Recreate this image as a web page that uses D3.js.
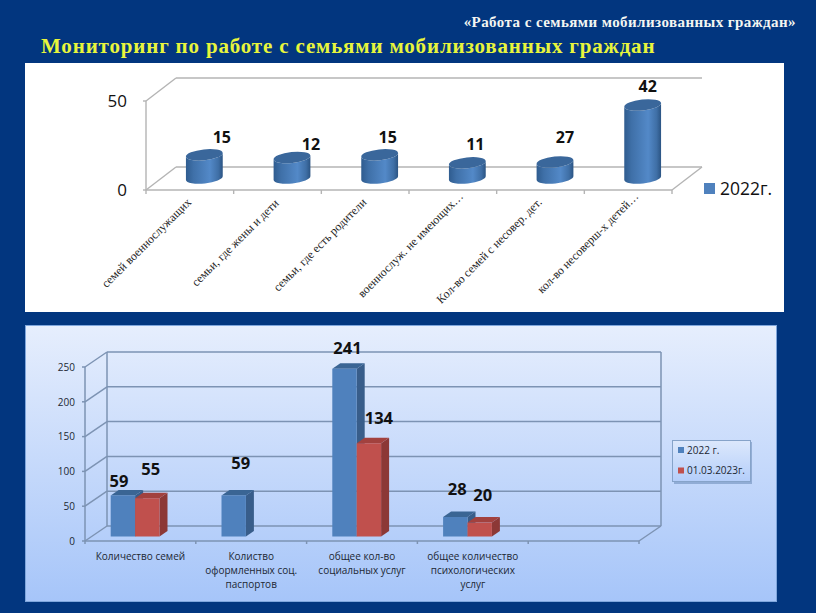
<!DOCTYPE html>
<html>
<head>
<meta charset="utf-8">
<script src="https://cdn.jsdelivr.net/npm/d3@7"></script>
<style>
  html, body { margin: 0; padding: 0; background: #02367f; }
  svg { display: block; }
  .num { font-family: "Open Sans", sans-serif; }
  .domain { display: none; }
</style>
</head>
<body>
<svg id="slide" width="816" height="613"></svg>
<script>
// top chart
const topCategories = ["семей военнослужащих", "семьи, где жены и дети", "семьи, где есть родители", "военнослуж. не имеющих…", "Кол-во семей с несовер. дет.", "кол-во несоверш-х детей…"];
const topLabels = [15, 12, 15, 11, 27, 42];
// the cylinders are not as tall as their labels say, these are the drawn heights
const topHeights = [13, 11.5, 13, 8.5, 9, 41];
const topTicks = [0, 50];

// bottom chart
const botCategories = ["Количество семей", "Колиство оформленных соц. паспортов", "общее кол-во социальных услуг", "общее количество психологических услуг", " "];
const botLines = [["Количество семей"], ["Колиство", "оформленных соц.", "паспортов"], ["общее кол-во", "социальных услуг"], ["общее количество", "психологических", "услуг"], []];
const series = ["2022 г.", "01.03.2023г."];
const values2022 = [59, 59, 241, 28, null];
const values2023 = [55, null, 134, 20, null];
const botTicks = [0, 50, 100, 150, 200, 250];

const svg = d3.select("#slide");
const defs = svg.append("defs");

const panelGrad = defs.append("linearGradient").attr("id", "panel").attr("x2", 0).attr("y2", 1);
panelGrad.append("stop").attr("offset", 0).attr("stop-color", "#e6eefd");
panelGrad.append("stop").attr("offset", 1).attr("stop-color", "#a6c5f9");

const legendGrad = defs.append("linearGradient").attr("id", "legendbg").attr("x2", 0).attr("y2", 1);
legendGrad.append("stop").attr("offset", 0).attr("stop-color", "#dce8fc");
legendGrad.append("stop").attr("offset", 1).attr("stop-color", "#b4cefa");

const cylGrad = defs.append("linearGradient").attr("id", "cyl");
cylGrad.append("stop").attr("offset", 0).attr("stop-color", "#2f5c8f");
cylGrad.append("stop").attr("offset", 0.2).attr("stop-color", "#3f70a8");
cylGrad.append("stop").attr("offset", 0.65).attr("stop-color", "#5389c8");
cylGrad.append("stop").attr("offset", 0.88).attr("stop-color", "#3f6fa6");
cylGrad.append("stop").attr("offset", 1).attr("stop-color", "#2b5483");

// titles
svg.append("text").attr("x", 796).attr("y", 27).attr("text-anchor", "end")
   .attr("font-family", "Liberation Serif").attr("font-weight", "bold").attr("font-size", 15)
   .attr("letter-spacing", 0.43).attr("fill", "#f4f6f2")
   .text("«Работа с семьями мобилизованных граждан»");
svg.append("text").attr("x", 41).attr("y", 53)
   .attr("font-family", "Liberation Serif").attr("font-weight", "bold").attr("font-size", 21)
   .attr("letter-spacing", 0.83).attr("fill", "#e8f53c")
   .text("Мониторинг по работе с семьями мобилизованных граждан");

// ---- top panel ----
svg.append("rect").attr("x", 25).attr("y", 63).attr("width", 759).attr("height", 249).attr("fill", "#fff");

const xT = d3.scaleBand().domain(topCategories).range([146, 672]);
const yT = d3.scaleLinear().domain([0, 50]).range([190, 101]);
const depthT = [30, -23];
const wallT = "#b4b4b4";
const gT = svg.append("g");

const lineT = (x1, y1, x2, y2) => gT.append("line").attr("x1", x1).attr("y1", y1).attr("x2", x2).attr("y2", y2)
   .attr("stroke", wallT).attr("stroke-width", 1.4);

topTicks.forEach(t => {
    lineT(xT.range()[0], yT(t), xT.range()[0] + depthT[0], yT(t) + depthT[1]);
    lineT(xT.range()[0] + depthT[0], yT(t) + depthT[1], xT.range()[1] + depthT[0], yT(t) + depthT[1]);
    lineT(xT.range()[0] - 3, yT(t), xT.range()[0], yT(t));
});
lineT(xT.range()[0], yT(0), xT.range()[0], yT(50));
lineT(xT.range()[0], yT(0), xT.range()[1], yT(0));
lineT(xT.range()[1], yT(0), xT.range()[1] + depthT[0], yT(0) + depthT[1]);
d3.range(topCategories.length + 1).forEach(i => {
    const px = xT.range()[0] + i * xT.step();
    lineT(px, yT(0), px, yT(0) + 4);
});

gT.append("g").attr("transform", `translate(${xT.range()[0] - 16},0.5)`)
   .call(d3.axisLeft(yT).tickValues(topTicks).tickSize(0).tickPadding(3))
   .selectAll("text").attr("class", "num").attr("font-size", 17).attr("fill", "#111");

// cylinders
const cylRx = 18.5, cylRy = 5.5, cylTilt = -6, cylBase = 12, cylShift = 14.5;
const tiltX = cylRx * Math.cos(cylTilt * Math.PI / 180), tiltY = cylRx * Math.sin(cylTilt * Math.PI / 180);
const cylCx = c => xT(c) + xT.bandwidth() / 2 + cylShift;
const topRows = topCategories.map((c, i) => ({ c, label: topLabels[i], h: topHeights[i], i }));

gT.selectAll(".cyl").data(topRows).enter().append("path").attr("class", "cyl")
   .attr("fill", "url(#cyl)")
   .attr("d", d => {
       const cx = cylCx(d.c), top = yT(d.h) - cylBase, base = yT(0) - cylBase;
       return `M${cx - tiltX},${top - tiltY}L${cx - tiltX},${base - tiltY}`
            + `A${cylRx},${cylRy} ${cylTilt} 0 0 ${cx + tiltX},${base + tiltY}`
            + `L${cx + tiltX},${top + tiltY}`
            + `A${cylRx},${cylRy} ${cylTilt} 0 1 ${cx - tiltX},${top - tiltY}Z`;
   });
gT.selectAll(".cyltop").data(topRows).enter().append("ellipse").attr("class", "cyltop")
   .attr("rx", cylRx).attr("ry", cylRy).attr("fill", "#3a679b")
   .attr("transform", d => `translate(${cylCx(d.c)},${yT(d.h) - cylBase}) rotate(${cylTilt})`);

// data labels were dragged by hand in the original, so each one has its own offset
const topLabelNudge = [[17.5, -18], [19, -14], [8, -18], [8, -19], [10, -25], [5, -19]];
gT.selectAll(".toplabel").data(topRows).enter().append("text").attr("class", "toplabel num")
   .attr("text-anchor", "middle").attr("dominant-baseline", "central")
   .attr("font-size", 16).attr("font-weight", "bold").attr("fill", "#111")
   .attr("x", d => cylCx(d.c) + topLabelNudge[d.i][0])
   .attr("y", d => yT(d.h) - cylBase + topLabelNudge[d.i][1])
   .text(d => d.label);

// slanted category labels
const topNameNudge = [[2, 203], [2, 204], [2, 203], [11, 197], [2, 203], [11, 197]];
gT.selectAll(".topname").data(topRows).enter().append("text").attr("class", "topname")
   .attr("text-anchor", "end").attr("font-family", "Liberation Serif").attr("font-size", 11.9).attr("fill", "#222")
   .attr("transform", d => `translate(${xT(d.c) + xT.bandwidth() / 2 + topNameNudge[d.i][0]},${topNameNudge[d.i][1]}) rotate(-45)`)
   .text(d => d.c);

gT.append("rect").attr("x", 704).attr("y", 183).attr("width", 11).attr("height", 11).attr("fill", "#4f81bd");
gT.append("text").attr("class", "num").attr("x", 720).attr("y", 195).attr("font-size", 17.5).attr("fill", "#111").text("2022г.");

// ---- bottom panel ----
svg.append("rect").attr("x", 25.5).attr("y", 325.5).attr("width", 751).attr("height", 276)
   .attr("fill", "url(#panel)").attr("stroke", "#7fa6dc");

const xB = d3.scaleBand().domain(botCategories).range([85, 639]);
const xS = d3.scaleBand().domain(series).range([25.7, 74.5]);
const yB = d3.scaleLinear().domain([0, 250]).range([541, 367]);
const depthB = [22, -15];
const wallB = "#7d93b3";
const gB = svg.append("g");

const lineB = (x1, y1, x2, y2) => gB.append("line").attr("x1", x1).attr("y1", y1).attr("x2", x2).attr("y2", y2)
   .attr("stroke", wallB).attr("stroke-width", 1.5);

botTicks.forEach(t => {
    lineB(xB.range()[0] - 3, yB(t), xB.range()[0], yB(t));
    lineB(xB.range()[0], yB(t), xB.range()[0] + depthB[0], yB(t) + depthB[1]);
    lineB(xB.range()[0] + depthB[0], yB(t) + depthB[1], xB.range()[1] + depthB[0], yB(t) + depthB[1]);
});
lineB(xB.range()[0], yB(0), xB.range()[0], yB(250));
lineB(xB.range()[0] + depthB[0], yB(0) + depthB[1], xB.range()[0] + depthB[0], yB(250) + depthB[1]);
lineB(xB.range()[1] + depthB[0], yB(0) + depthB[1], xB.range()[1] + depthB[0], yB(250) + depthB[1]);
lineB(xB.range()[0], yB(0), xB.range()[1], yB(0));
lineB(xB.range()[1], yB(0), xB.range()[1] + depthB[0], yB(0) + depthB[1]);
d3.range(botCategories.length + 1).forEach(i => {
    const px = xB.range()[0] + i * xB.step();
    lineB(px, yB(0), px, yB(0) + 3);
});

gB.append("g").attr("transform", `translate(${xB.range()[0] - 5},0)`)
   .call(d3.axisLeft(yB).tickValues(botTicks).tickSize(0).tickPadding(5))
   .selectAll("text").attr("class", "num").attr("font-size", 10).attr("fill", "#1c2733");

const botAxis = gB.append("g").attr("transform", "translate(0,541)")
   .call(d3.axisBottom(xB).tickSize(0).tickFormat(""));
botAxis.selectAll(".tick text").attr("dy", 0).each(function (d, i) {
    d3.select(this).selectAll("tspan").data(botLines[i]).enter().append("tspan")
       .attr("class", "num").attr("x", 0).attr("y", (l, j) => 18.5 + j * 14.3)
       .attr("font-size", 10).attr("fill", "#1c2733").text(l => l);
});

// bars
const barColors = {
    "2022 г.": { front: "#4f81bd", side: "#385d8a", top: "#3a6594" },
    "01.03.2023г.": { front: "#c0504d", side: "#8c3836", top: "#a2413e" }
};
const barDepth = [8, -5.5], barBase = 4.5;
const rows = [];
series.forEach((s, k) => {
    const vals = k === 0 ? values2022 : values2023;
    botCategories.forEach((c, i) => { if (vals[i] !== null) rows.push({ s, c, v: vals[i] }); });
});
// red bars go after blue so they sit over the blue side faces
const bars = gB.selectAll(".bar").data(rows).enter().append("g").attr("class", "bar");
bars.append("path").attr("fill", d => barColors[d.s].side).attr("d", d => {
    const x1 = xB(d.c) + xS(d.s) + xS.bandwidth(), t = yB(d.v) - barBase, b = yB(0) - barBase;
    return `M${x1},${t}l${barDepth[0]},${barDepth[1]}L${x1 + barDepth[0]},${b + barDepth[1]}L${x1},${b}Z`;
});
bars.append("path").attr("fill", d => barColors[d.s].top).attr("d", d => {
    const x0 = xB(d.c) + xS(d.s), t = yB(d.v) - barBase, w = xS.bandwidth();
    return `M${x0},${t}l${barDepth[0]},${barDepth[1]}h${w}l${-barDepth[0]},${-barDepth[1]}Z`;
});
bars.append("rect").attr("fill", d => barColors[d.s].front)
   .attr("x", d => xB(d.c) + xS(d.s)).attr("width", xS.bandwidth())
   .attr("y", d => yB(d.v) - barBase).attr("height", d => yB(0) - yB(d.v));

// hand placed labels again, in the same order as rows
const botLabelNudge = [[-4, -15], [7, -33], [3, -21.5], [2, -29], [3.5, -30], [10, -26], [3, -28]];
gB.selectAll(".botlabel").data(rows).enter().append("text").attr("class", "botlabel num")
   .attr("text-anchor", "middle").attr("dominant-baseline", "central")
   .attr("font-size", 16.5).attr("font-weight", "bold").attr("fill", "#111")
   .attr("x", (d, i) => xB(d.c) + xS(d.s) + xS.bandwidth() / 2 + botLabelNudge[i][0])
   .attr("y", (d, i) => yB(d.v) - barBase + botLabelNudge[i][1])
   .text(d => d.v);

// legend
gB.append("rect").attr("x", 674).attr("y", 442).attr("width", 78).attr("height", 42).attr("fill", "#6f8fbd").attr("opacity", 0.6);
gB.append("rect").attr("x", 672.5).attr("y", 440.5).attr("width", 78).attr("height", 41)
   .attr("fill", "url(#legendbg)").attr("stroke", "#86a3c9");
const legend = gB.selectAll(".leg").data(series).enter().append("g").attr("class", "leg")
   .attr("transform", (d, i) => `translate(678,${450 + i * 20.5})`);
legend.append("rect").attr("y", -3).attr("width", 6).attr("height", 6).attr("fill", d => barColors[d].front);
legend.append("text").attr("class", "num").attr("x", 9).attr("y", 3.5).attr("font-size", 10).attr("fill", "#1c2733").text(d => d);
</script>
</body>
</html>
